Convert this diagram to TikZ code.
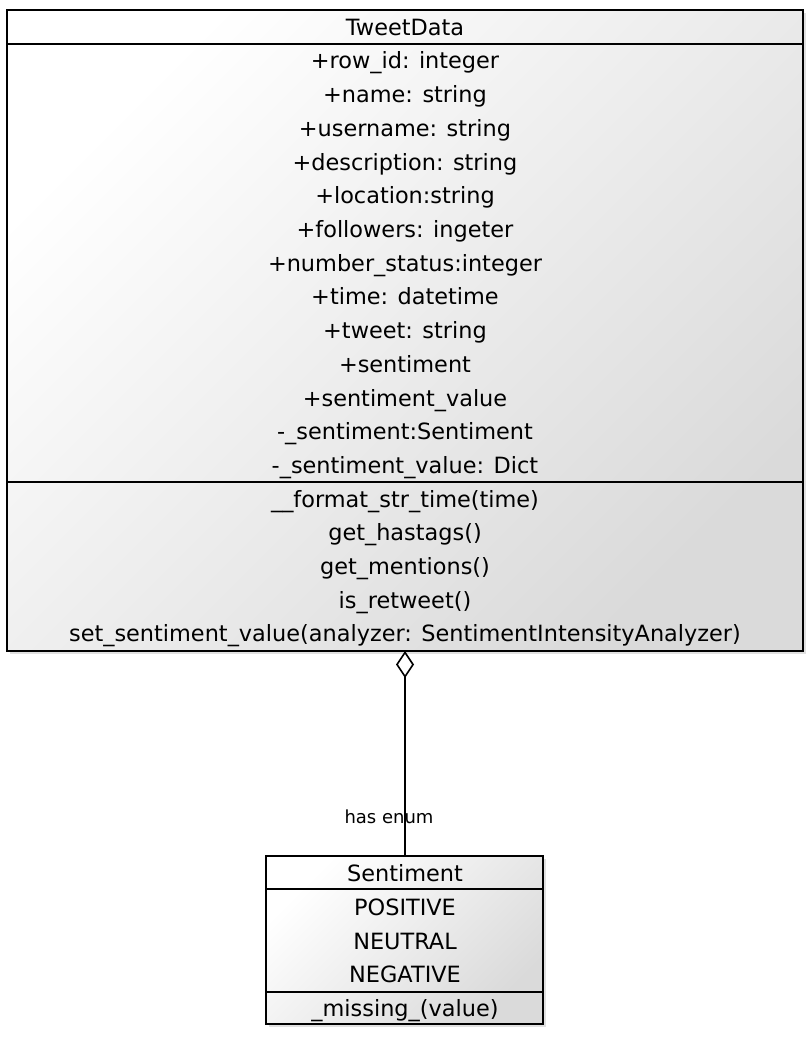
\documentclass[tikz,border=0pt]{standalone}
\usepackage{fontspec}
\setmainfont{DejaVu Sans}
\usetikzlibrary{arrows.meta,shadows}
\definecolor{boxend}{RGB}{218,218,218}
\tikzset{
  classbox/.style={draw=black, line width=1.6pt, shading=axis, top color=white, bottom color=boxend, shading angle=45,
     drop shadow={shadow xshift=3pt, shadow yshift=-3pt, fill=black, opacity=0.12}},
  member/.style={inner sep=0pt, font=\fontsize{22.4}{26}\selectfont, anchor=base},
  sep/.style={line width=1.6pt},
  lbl/.style={inner sep=0pt, font=\fontsize{18}{21}\selectfont, anchor=base}
}
\begin{document}
\begin{tikzpicture}[x=1pt,y=-1pt]
\useasboundingbox (0,0) rectangle (809,1046);
% TweetData
\path[classbox] (7,10) rectangle (803,651);
\coordinate (tdS) at (405,651);
\draw[sep] (7,44) -- (803,44);
\draw[sep] (7,482) -- (803,482);
\node[member] (td) at (405,35.7) {TweetData};
\node[member] (a1) at (405,69) {+row\_id: integer};
\node[member] (a2) at (405,102.7) {+name: string};
\node[member] (a3) at (405,136.4) {+username: string};
\node[member] (a4) at (405,170.1) {+description: string};
\node[member] (a5) at (405,203.8) {+location:string};
\node[member] (a6) at (405,237.5) {+followers: ingeter};
\node[member] (a7) at (405,271.2) {+number\_status:integer};
\node[member] (a8) at (405,304.9) {+time: datetime};
\node[member] (a9) at (405,338.6) {+tweet: string};
\node[member] (a10) at (405,372.3) {+sentiment};
\node[member] (a11) at (405,406) {+sentiment\_value};
\node[member] (a12) at (405,439.7) {-\_sentiment:Sentiment};
\node[member] (a13) at (405,473.4) {-\_sentiment\_value: Dict};
\node[member] (m1) at (405,507.1) {\_\_format\_str\_time(time)};
\node[member] (m2) at (405,540.8) {get\_hastags()};
\node[member] (m3) at (405,574.5) {get\_mentions()};
\node[member] (m4) at (405,608.2) {is\_retweet()};
\node[member] (m5) at (405,641.9) {set\_sentiment\_value(analyzer: SentimentIntensityAnalyzer)};
% Sentiment
\path[classbox] (266,856) rectangle (543,1024);
\coordinate (seN) at (405,856);
\draw[sep] (266,889) -- (543,889);
\draw[sep] (266,992) -- (543,992);
\node[member] (se) at (405,881.7) {Sentiment};
\node[member] (v1) at (405,915.7) {POSITIVE};
\node[member] (v2) at (405,949) {NEUTRAL};
\node[member] (v3) at (405,982.3) {NEGATIVE};
\node[member] (sm) at (405,1016.7) {\_missing\_(value)};
% connector
\node[lbl] (hl) at (389,823) {has enum};
\draw[line width=1.6pt, {Diamond[open, length=27pt, width=18pt, line width=1.6pt]}-] (tdS) -- (seN);
\end{tikzpicture}
\end{document}
